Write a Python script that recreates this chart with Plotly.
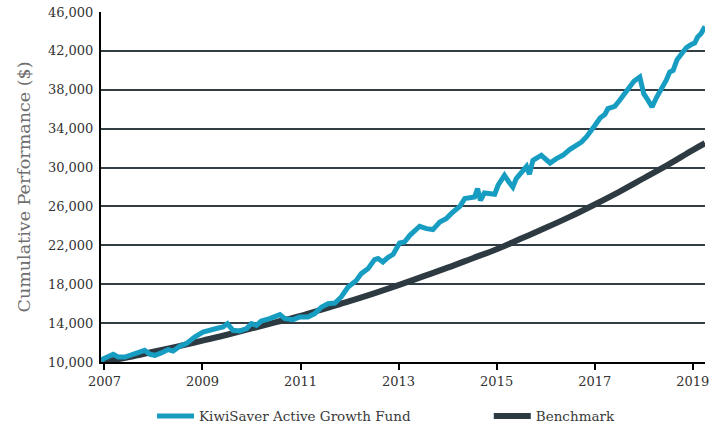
import plotly.graph_objects as go

# Fund series (decimal year, value in $)
fund_years = [2006.93, 2006.97, 2007.18, 2007.28, 2007.42, 2007.59, 2007.72, 2007.82, 2007.93,
              2008.03, 2008.16, 2008.30, 2008.40, 2008.54, 2008.67, 2008.84, 2009.01, 2009.15,
              2009.32, 2009.42, 2009.51, 2009.62, 2009.76, 2009.90, 2010.00, 2010.10, 2010.20,
              2010.37, 2010.51, 2010.58, 2010.68, 2010.85, 2010.98, 2011.15, 2011.29, 2011.43,
              2011.56, 2011.70, 2011.83, 2011.97, 2012.14, 2012.24, 2012.38, 2012.51, 2012.58,
              2012.68, 2012.78, 2012.89, 2013.02, 2013.12, 2013.23, 2013.43, 2013.57, 2013.70,
              2013.84, 2013.97, 2014.11, 2014.25, 2014.35, 2014.45, 2014.55, 2014.61, 2014.67,
              2014.75, 2014.89, 2014.96, 2015.03, 2015.16, 2015.25, 2015.33, 2015.40, 2015.52,
              2015.61, 2015.67, 2015.74, 2015.91, 2016.01, 2016.09, 2016.22, 2016.35, 2016.49,
              2016.63, 2016.73, 2016.83, 2016.92, 2017.00, 2017.11, 2017.21, 2017.27, 2017.41,
              2017.51, 2017.61, 2017.72, 2017.80, 2017.92, 2018.00, 2018.08, 2018.17, 2018.26,
              2018.36, 2018.46, 2018.53, 2018.60, 2018.68, 2018.77, 2018.87, 2018.97, 2019.04,
              2019.10, 2019.17, 2019.25]
fund_values = [10000, 10300, 10790, 10510, 10510, 10790, 10970, 11200, 10790,
               10690, 10930, 11275, 11130, 11615, 11890, 12570, 13085, 13330,
               13500, 13600, 13950, 13260, 13190, 13435, 13950, 13775, 14215,
               14460, 14800, 14875, 14460, 14360, 14630, 14630, 14980, 15660,
               16000, 16070, 16690, 17715, 18400, 19090, 19610, 20530, 20640,
               20290, 20740, 21080, 22240, 22340, 23030, 23960, 23720, 23620,
               24400, 24750, 25430, 26015, 26810, 26910, 26970, 27835, 26630,
               27380, 27300, 27250, 28180, 29200, 28515, 28000, 28865, 29550,
               30130, 29310, 30750, 31260, 30750, 30470, 30920, 31260, 31850,
               32290, 32630, 33145, 33660, 34300, 35100, 35480, 36060, 36300,
               36920, 37670, 38360, 38870, 39315, 37600, 36990, 36230, 37200,
               38020, 38980, 39830, 40000, 41100, 41720, 42340, 42650, 42810,
               43430, 43780, 44500]

# Benchmark series (decimal year, value in $)
bench_years = [2006.93, 2007.5, 2008, 2008.5, 2009, 2009.5, 2010, 2010.5, 2011, 2011.5, 2012,
               2012.5, 2013, 2013.5, 2014, 2014.5, 2015, 2015.5, 2016, 2016.5, 2017,
               2017.5, 2018, 2018.5, 2019, 2019.25]
bench_values = [10000, 10500, 11050, 11600, 12200, 12800, 13450, 14100, 14750, 15500, 16250,
                17050, 17900, 18800, 19700, 20650, 21600, 22700, 23800, 24950, 26200,
                27500, 28900, 30300, 31800, 32500]

x_ticks = [2007, 2009, 2011, 2013, 2015, 2017, 2019]
x_tick_labels = ["2007", "2009", "2011", "2013", "2015", "2017", "2019"]
y_ticks = [10000, 14000, 18000, 22000, 26000, 30000, 34000, 38000, 42000, 46000]
y_tick_labels = ["10,000", "14,000", "18,000", "22,000", "26,000", "30,000",
                 "34,000", "38,000", "42,000", "46,000"]

TEAL = "#189dc2"
DARK = "#2e3a41"
FONT = "DejaVu Serif"

fig = go.Figure()
fig.add_trace(go.Scatter(x=bench_years, y=bench_values, mode="lines", name="Benchmark",
                         line=dict(color=DARK, width=6, shape="spline"), legend="legend2"))
fig.add_trace(go.Scatter(x=fund_years, y=fund_values, mode="lines",
                         name="KiwiSaver Active Growth Fund",
                         line=dict(color=TEAL, width=5), legend="legend"))

legend_common = dict(orientation="h", xanchor="left", yref="container", y=0.025,
                     yanchor="middle", itemwidth=37, bgcolor="rgba(0,0,0,0)",
                     font=dict(family=FONT, size=13.5, color="#3a3a3a"))

fig.update_layout(
    width=722, height=427,
    margin=dict(l=101, r=17, t=12, b=65, autoexpand=False),
    paper_bgcolor="white", plot_bgcolor="white",
    font=dict(family=FONT, size=13, color="#333333"),
    showlegend=True,
    legend=dict(x=0.0844, **legend_common),
    legend2=dict(x=0.642, **legend_common),
    xaxis=dict(range=[2006.93, 2019.25], tickvals=x_ticks, ticktext=x_tick_labels,
               automargin=False,
               showgrid=False, zeroline=False, showline=True, linecolor="black", linewidth=2,
               ticks="outside", ticklen=6, tickwidth=2, tickcolor="black",
               tickfont=dict(family=FONT, size=13, color="#333333")),
    yaxis=dict(range=[10000, 46000], tickvals=y_ticks, ticktext=y_tick_labels,
               automargin=False,
               showgrid=True, gridcolor="#333d44", gridwidth=2, zeroline=False,
               showline=True, linecolor="black", linewidth=2, ticks="",
               ticklabelstandoff=3,
               tickfont=dict(family=FONT, size=13, color="#333333"),
               title=dict(text="Cumulative Performance ($)", standoff=13,
                          font=dict(family=FONT, size=17.5, color="#6e6e6e"))),
)

fig.write_html("out.html", config={"displayModeBar": False},
               post_script="document.body.style.margin='0';")
